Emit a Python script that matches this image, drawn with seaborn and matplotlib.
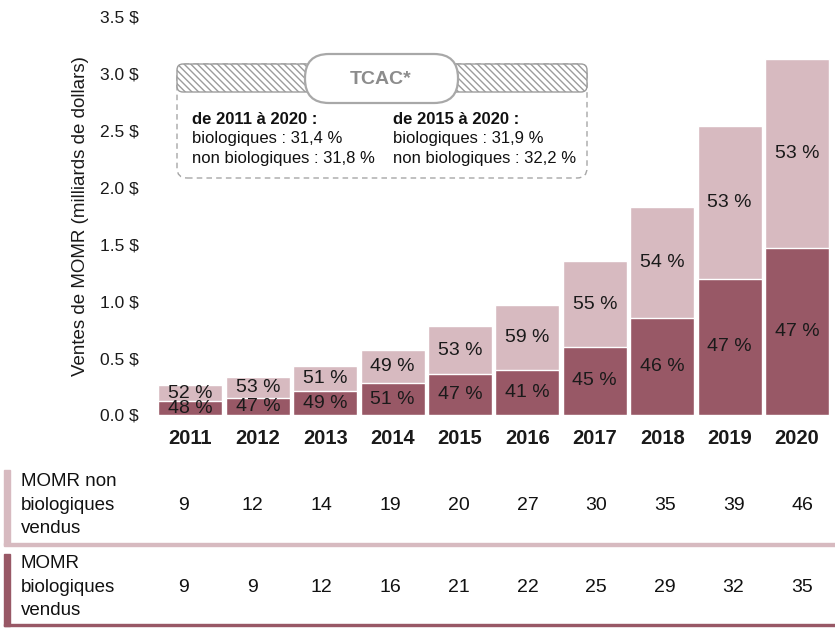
import matplotlib
matplotlib.use("Agg")
import matplotlib.pyplot as plt
import matplotlib.transforms as mtransforms
from matplotlib.patches import FancyBboxPatch, Rectangle
import seaborn as sns
import pandas as pd

# ---- data ----
years = ["2011", "2012", "2013", "2014", "2015", "2016", "2017", "2018", "2019", "2020"]
bio_sales = [0.12, 0.15, 0.21, 0.28, 0.36, 0.40, 0.60, 0.85, 1.20, 1.47]
nonbio_sales = [0.14, 0.18, 0.22, 0.29, 0.42, 0.57, 0.75, 0.98, 1.34, 1.66]
bio_pct = [48, 47, 49, 51, 47, 41, 45, 46, 47, 47]
nonbio_pct = [52, 53, 51, 49, 53, 59, 55, 54, 53, 53]
nonbio_sold = [9, 12, 14, 19, 20, 27, 30, 35, 39, 46]
bio_sold = [9, 9, 12, 16, 21, 22, 25, 29, 32, 35]
yticks = [0.0, 0.5, 1.0, 1.5, 2.0, 2.5, 3.0, 3.5]
row_labels = ["MOMR non\nbiologiques\nvendus", "MOMR\nbiologiques\nvendus"]
tcac_title = "TCAC*"
tcac_left = ["de 2011 à 2020 :", "biologiques : 31,4 %", "non biologiques : 31,8 %"]
tcac_right = ["de 2015 à 2020 :", "biologiques : 31,9 %", "non biologiques : 32,2 %"]

LIGHT = "#D7BAC0"
DARK = "#985866"
GREY = "#A6A6A6"

sns.set_theme(style="white")
plt.rcParams["font.family"] = ["Liberation Sans", "DejaVu Sans"]

W, H = 835, 631
fig = plt.figure(figsize=(W / 100, H / 100), dpi=100)


def fx(x):
    return x / W


def fy(y):
    return 1 - y / H


ax = fig.add_axes([fx(150), fy(415), fx(834) - fx(150), fy(17) - fy(415)])

df = pd.DataFrame({
    "year": years,
    "bio": bio_sales,
    "nonbio": nonbio_sales,
})
df["total"] = df["bio"] + df["nonbio"]

sns.barplot(data=df, x="year", y="total", order=years, color=LIGHT,
            saturation=1, width=0.95, ax=ax)
sns.barplot(data=df, x="year", y="bio", order=years, color=DARK,
            saturation=1, width=0.95, ax=ax)

for i in range(len(years)):
    b = df["bio"][i]
    t = df["total"][i]
    ax.text(i, b / 2, f"{bio_pct[i]} %", ha="center", va="center",
            fontsize=14, color="#1a1a1a")
    ax.text(i, b + (t - b) / 2, f"{nonbio_pct[i]} %", ha="center", va="center",
            fontsize=14, color="#1a1a1a")

ax.set_ylim(0, 3.5)
ax.set_xlim(-0.6, 9.55)
ax.set_yticks(yticks)
ax.set_yticklabels([f"{v:.1f} $" for v in yticks], fontsize=12.5, color="#1a1a1a")
ax.set_xticks(range(len(years)))
ax.set_xticklabels(years, fontsize=14.5, fontweight="bold", color="#1a1a1a")
ax.tick_params(axis="y", length=0, pad=8)
ax.tick_params(axis="x", length=0, pad=10)
ax.set_xlabel("")
ax.set_ylabel("Ventes de MOMR (milliards de dollars)", fontsize=13.5, color="#1a1a1a",
              labelpad=8)
for s in ax.spines.values():
    s.set_visible(False)

# ---- TCAC annotation box (pixel coordinates) ----
pix = mtransforms.IdentityTransform()
outer = FancyBboxPatch((177, H - 178), 410, 114,
                       boxstyle="round,pad=0,rounding_size=10",
                       facecolor="white", edgecolor=GREY, linewidth=1.0,
                       linestyle=(0, (4, 3)), transform=pix, zorder=5)
fig.patches.append(outer)
band = FancyBboxPatch((177, H - 92), 410, 28,
                      boxstyle="round,pad=0,rounding_size=6",
                      facecolor="white", edgecolor="#9C9C9C", linewidth=1.0,
                      hatch="\\\\\\\\\\", transform=pix, zorder=6)
fig.patches.append(band)
pill = FancyBboxPatch((305, H - 103), 153, 49,
                      boxstyle="round,pad=0,rounding_size=24",
                      facecolor="white", edgecolor="#A8A8A8", linewidth=1.6,
                      transform=pix, zorder=7)
fig.patches.append(pill)
fig.text(fx(381), fy(79), tcac_title, ha="center", va="center", fontsize=14,
         fontweight="bold", color="#8C8C8C", zorder=8)

for col_x, lines in ((192, tcac_left), (393, tcac_right)):
    for j, line in enumerate(lines):
        fig.text(fx(col_x), fy(120 + j * 19), line, ha="left", va="center",
                 fontsize=12, fontweight="bold" if j == 0 else "normal",
                 color="#111111", zorder=8)

# ---- table below ----
fig.patches.append(Rectangle((fx(4), fy(545)), fx(6), fy(470) - fy(545),
                             transform=fig.transFigure, color=LIGHT, zorder=3))
fig.patches.append(Rectangle((fx(4), fy(545.5)), 1 - fx(4), fy(543) - fy(545.5),
                             transform=fig.transFigure, color=LIGHT, zorder=3))
fig.patches.append(Rectangle((fx(4), fy(626)), fx(6), fy(554) - fy(626),
                             transform=fig.transFigure, color=DARK, zorder=3))
fig.patches.append(Rectangle((fx(4), fy(626)), 1 - fx(4), fy(623.5) - fy(626),
                             transform=fig.transFigure, color=DARK, zorder=3))

fig.text(fx(21), fy(505), row_labels[0], ha="left", va="center", fontsize=13.5,
         color="#111111", linespacing=1.5)
fig.text(fx(21), fy(587), row_labels[1], ha="left", va="center", fontsize=13.5,
         color="#111111", linespacing=1.5)

blend = mtransforms.blended_transform_factory(ax.transData, fig.transFigure)
for i in range(len(years)):
    xpos = i * 1.02 - 0.1
    fig.text(xpos, fy(505), str(nonbio_sold[i]), ha="center", va="center",
             fontsize=14, color="#111111", transform=blend)
    fig.text(xpos, fy(587), str(bio_sold[i]), ha="center", va="center",
             fontsize=14, color="#111111", transform=blend)

fig.savefig("out.png", dpi=100, facecolor="white")
